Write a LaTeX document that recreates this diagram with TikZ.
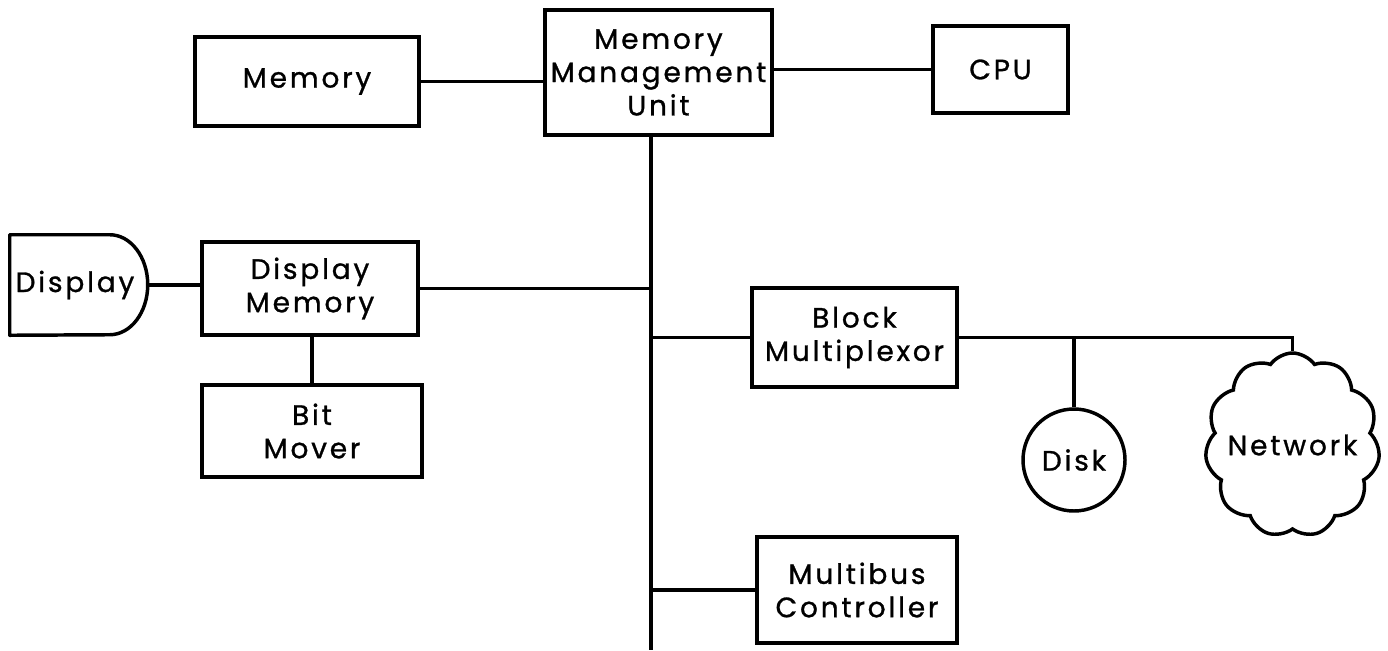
\documentclass[tikz,border=0pt]{standalone}
\usepackage{fontspec}
\setmainfont{Poppins}[LetterSpace=10, FakeBold=1]
\usetikzlibrary{shapes.symbols}
\begin{document}
\begin{tikzpicture}[x=0.75pt,y=-0.75pt,
  every node/.style={font=\fontsize{21}{25}\selectfont, align=center, inner sep=0pt},
  box/.style={draw, line width=2.6pt},
  wire/.style={line width=2.6pt}]
\useasboundingbox (0,0) rectangle (1388,650);
% nodes
\node[box, minimum width=168pt, minimum height=66.75pt] (mem) at (307,81.5) {Memory};
\node[box, minimum width=170.25pt, minimum height=93.75pt] (mmu) at (658.5,72.5) {Memory\\Management\\Unit};
\node[box, minimum width=101.25pt, minimum height=65.25pt] (cpu) at (1000.5,69.5) {CPU};
\node[minimum width=103.5pt, minimum height=75pt] (disp) at (79,285) {\hspace*{-6pt}Display};
\draw[wire, line join=round] (disp.south west) -- (disp.north west) -- ++(75pt,0)
   arc[start angle=90, end angle=-90, x radius=28.5pt, y radius=37.5pt] -- cycle;
\node[box, minimum width=162pt, minimum height=69.75pt] (dmem) at (310,288.5) {Display\\Memory};
\node[box, minimum width=165pt, minimum height=69pt] (bit) at (312,431) {Bit\\Mover};
\node[box, minimum width=153.75pt, minimum height=74.25pt] (bmux) at (854.5,337.5) {Block\\Multiplexor};
\node[box, minimum width=150pt, minimum height=79.5pt] (mbus) at (857,590) {Multibus\\Controller};
\node[box, circle, minimum size=76.5pt] (disk) at (1074,460) {Disk};
\node[box, cloud, cloud puffs=11, cloud puff arc=110, aspect=0.95, minimum width=131pt, minimum height=138pt] (net) at (1292.5,445) {};
\node (nettext) at (net.center) {Network};
% bus
\coordinate (busbot) at (651,650);
\draw[wire] (mmu.south -| busbot) -- (busbot);
% connectors
\draw[wire] (mem.east) -- (mem.east -| mmu.west);
\draw[wire] (mmu.east |- cpu.west) -- (cpu.west);
\draw[wire] (disp.east) -- (disp.east -| dmem.west);
\draw[wire] (dmem.east) -- (dmem.east -| busbot);
\draw[wire] (dmem.south) -- (dmem.south -| bit.north) -- (bit.north);
\draw[wire] (bmux.west -| busbot) -- (bmux.west);
\draw[wire] (mbus.west -| busbot) -- (mbus.west);
\draw[wire] (bmux.east) -- (bmux.east -| net.north) -- (net.north);
\draw[wire] (bmux.east -| disk.north) -- (disk.north);
\end{tikzpicture}
\end{document}
